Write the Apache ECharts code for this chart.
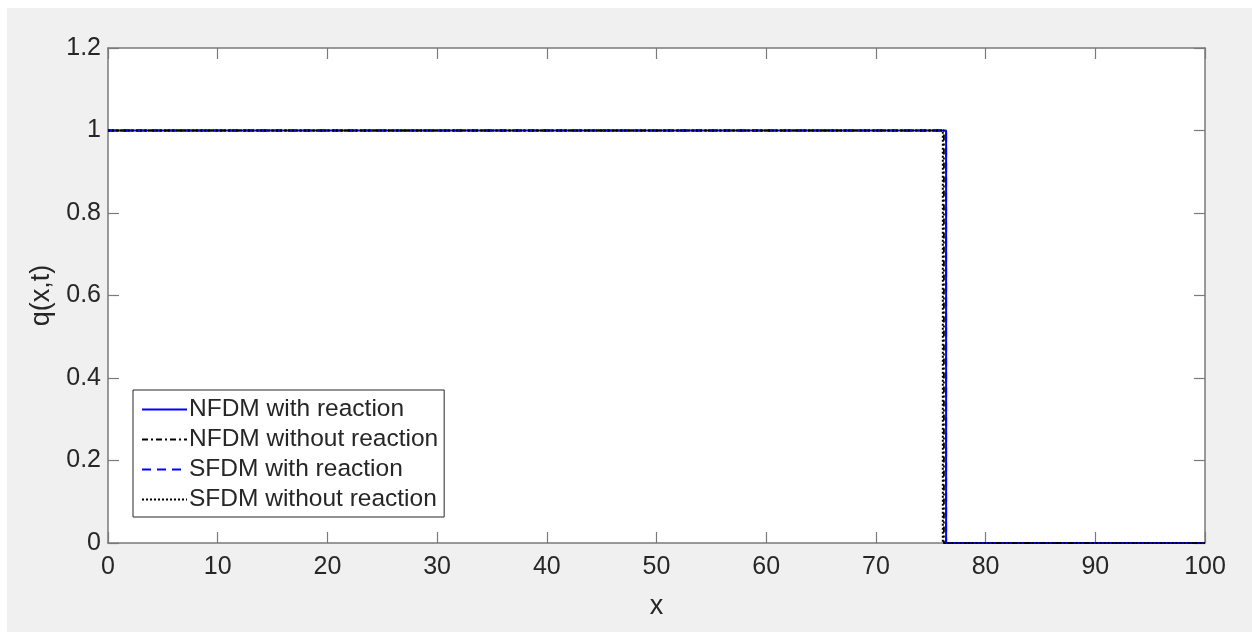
<!DOCTYPE html>
<html>
<head>
<meta charset="utf-8">
<script src="https://cdn.jsdelivr.net/npm/echarts@6/dist/echarts.min.js"></script>
<style>
  html, body { margin: 0; padding: 0; background: #fff; }
  #chart { width: 1252px; height: 632px; }
</style>
</head>
<body>
<div id="chart"></div>
<script>
// step profiles q(x,t)
var nfdmReact = [[0, 1], [76.4, 1], [76.4, 0], [100, 0]];
var nfdmNoReact = [[0, 1], [76.2, 1], [76.2, 0], [100, 0]];
var sfdmReact = [[0, 1], [76.4, 1], [76.4, 0], [100, 0]];
var sfdmNoReact = [[0, 1], [76.1, 1], [76.1, 0], [100, 0]];
var seriesNames = ['NFDM with reaction', 'NFDM without reaction', 'SFDM with reaction', 'SFDM without reaction'];

var font = 'Liberation Sans, Arial, sans-serif';
var axisGray = '#7a7a7a';
var textCol = '#262626';

var dom = document.getElementById('chart');
var myChart = echarts.init(dom, null, { renderer: 'canvas' });

function frameAxis(extra) {
  var a = {
    axisLine: { show: true, onZero: false, lineStyle: { color: axisGray, width: 1.5 } },
    axisTick: { show: true, inside: true, length: 11, lineStyle: { color: axisGray, width: 1.2 } },
    splitLine: { show: false },
    axisLabel: { show: false }
  };
  return Object.assign(a, extra);
}

var option = {
  backgroundColor: '#ffffff',
  animation: false,
  graphic: [{
    type: 'rect', z: -10, silent: true,
    shape: { x: 7, y: 8, width: 1252, height: 632 },
    style: { fill: '#f0f0f0' }
  }],
  grid: {
    left: 108, top: 48, right: 47, bottom: 89,
    show: true, backgroundColor: '#ffffff', borderWidth: 0
  },
  legend: {
    orient: 'vertical',
    left: 133, top: 390,
    padding: [7, 6, 5, 8],
    itemGap: 5,
    itemWidth: 45,
    itemHeight: 14,
    backgroundColor: '#ffffff',
    borderColor: '#262626',
    borderWidth: 1,
    itemStyle: { opacity: 0 },
    textStyle: { fontFamily: font, fontSize: 24.5, color: textCol, padding: [0, 0, 0, -3] },
    data: seriesNames
  },
  xAxis: [
    frameAxis({
      type: 'value', min: 0, max: 100, interval: 10, position: 'bottom',
      axisLabel: { show: true, margin: 12, fontFamily: font, fontSize: 25, color: textCol },
      name: 'x', nameLocation: 'middle', nameGap: 50,
      nameTextStyle: { fontFamily: font, fontSize: 27, color: textCol }
    }),
    frameAxis({ type: 'value', min: 0, max: 100, interval: 10, position: 'top' })
  ],
  yAxis: [
    frameAxis({
      type: 'value', min: 0, max: 1.2, interval: 0.2, position: 'left',
      axisLabel: {
        show: true, margin: 7, fontFamily: font, fontSize: 25, color: textCol,
        formatter: function (v) { return +v.toFixed(1) + ''; }
      },
      name: 'q(x,t)', nameLocation: 'middle', nameGap: 51,
      nameTextStyle: { fontFamily: font, fontSize: 27, color: textCol }
    }),
    frameAxis({ type: 'value', min: 0, max: 1.2, interval: 0.2, position: 'right' })
  ],
  series: [
    {
      name: seriesNames[0], type: 'line', data: nfdmReact, symbol: 'none',
      itemStyle: { color: '#0000ff' },
      lineStyle: { color: '#0000ff', width: 2, type: 'solid' }
    },
    {
      name: seriesNames[1], type: 'line', data: nfdmNoReact, symbol: 'none',
      itemStyle: { color: '#000000' },
      lineStyle: { color: '#000000', width: 1.8, type: [6, 3, 2, 3] }
    },
    {
      name: seriesNames[2], type: 'line', data: sfdmReact, symbol: 'none',
      itemStyle: { color: '#0000ff' },
      lineStyle: { color: '#0000ff', width: 2, type: [9, 6] }
    },
    {
      name: seriesNames[3], type: 'line', data: sfdmNoReact, symbol: 'none',
      itemStyle: { color: '#000000' },
      lineStyle: { color: '#000000', width: 2, type: [2, 2] }
    }
  ]
};

if (option && typeof option === 'object') {
  myChart.setOption(option);
}
</script>
</body>
</html>
